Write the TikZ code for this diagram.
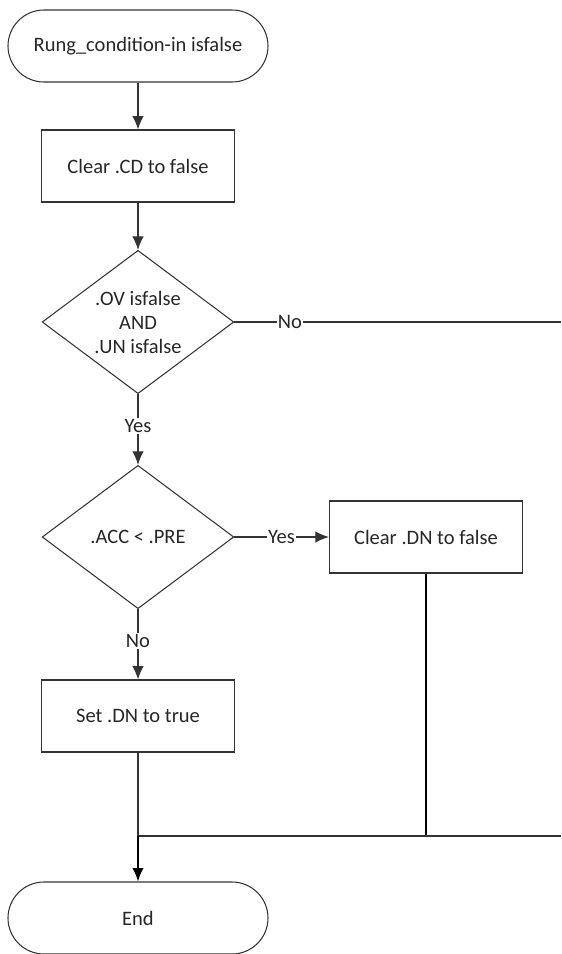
\documentclass[tikz,border=0pt]{standalone}
\usepackage{fontspec}
\setmainfont{Carlito}
\usetikzlibrary{shapes.geometric, positioning, arrows.meta}

\begin{document}
\begin{tikzpicture}[
    x=0.03cm, y=-0.03cm,
    line width=0.9pt,
    every node/.style={text=black!85, font=\fontsize{17.5}{20.5}\selectfont},
    term/.style={draw=black!80, rectangle, rounded corners=1.08cm, minimum width=7.8cm, minimum height=2.16cm, align=center},
    box/.style={draw=black!80, rectangle, minimum width=5.8cm, minimum height=2.16cm, align=center},
    decision/.style={draw=black!80, diamond, aspect=1.35, inner sep=0pt, minimum width=5.75cm, minimum height=4.3cm, align=center},
    lbl/.style={fill=white, inner sep=1pt},
    flow/.style={draw=black!80, -{Latex[length=4mm, width=3.4mm]}},
    line/.style={draw=black!80}
]
    \useasboundingbox (0,0) rectangle (561,954);

    % Main column
    \node[term] (start) at (138, 46) {Rung\_condition-in isfalse};
    \node[box] (clrcd) at (138, 166) {Clear .CD to false};
    \node[decision] (ovun) at (138, 322) {.OV isfalse\\AND\\.UN isfalse};
    \node[decision] (accpre) at (138, 537) {.ACC < .PRE};
    \node[box] (setdn) at (138, 716) {Set .DN to true};
    \node[term] (stop) at (138, 918) {End};

    % Side branch
    \node[box] (clrdn) at (426, 537) {Clear .DN to false};

    % Free ends and joins
    \coordinate (noend) at (561, 322);
    \coordinate (mergeR) at (561, 836);
    \coordinate (merge) at (138, 836);

    % Connections
    \draw[flow] (start) -- (clrcd);
    \draw[flow] (clrcd) -- (ovun);
    \draw[flow] (ovun) -- node[lbl, pos=0.45] {Yes} (accpre);
    \draw[line] (ovun.east) -- node[lbl, pos=0.17] {No} (noend);
    \draw[flow] (accpre) -- node[lbl, pos=0.5] {Yes} (clrdn);
    \draw[flow] (accpre) -- node[lbl, pos=0.45] {No} (setdn);
    \draw[line, draw=black] (clrdn.south) |- (merge);
    \draw[line] (mergeR) -- (merge);
    \draw[line] (setdn) -- (merge);
    \draw[flow, draw=black, line width=1.4pt] (merge) -- (stop);

\end{tikzpicture}
\end{document}
